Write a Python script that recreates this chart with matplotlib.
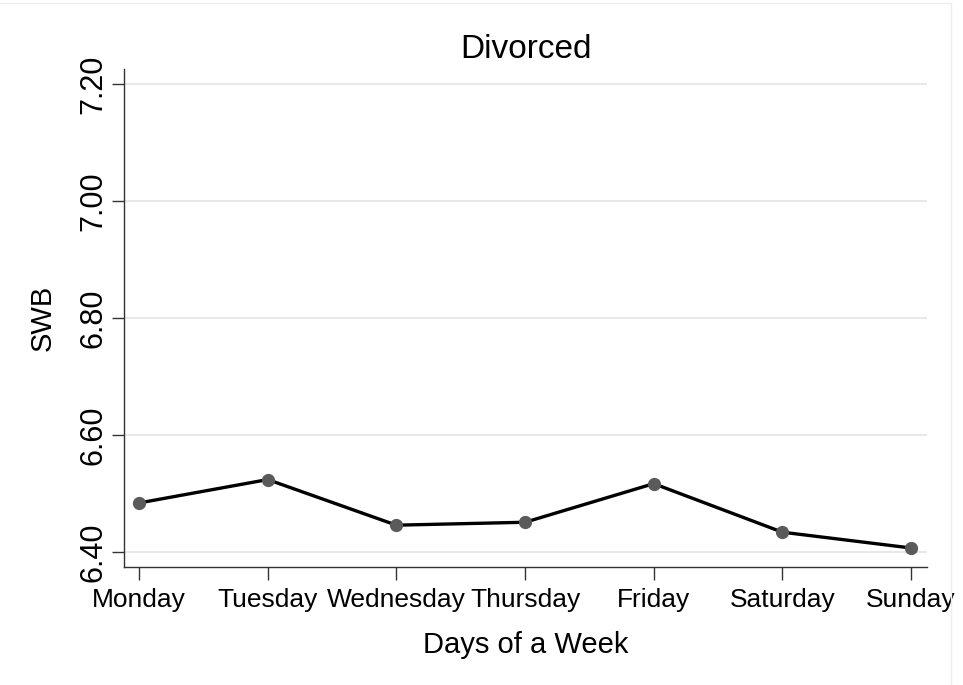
import matplotlib
matplotlib.use("Agg")
import matplotlib.pyplot as plt

days = ["Monday", "Tuesday", "Wednesday", "Thursday", "Friday", "Saturday", "Sunday"]
swb = [6.484, 6.524, 6.446, 6.451, 6.517, 6.434, 6.407]
yticks = [6.40, 6.60, 6.80, 7.00, 7.20]
ytick_labels = ["6.40", "6.60", "6.80", "7.00", "7.20"]

plt.rcParams['font.family'] = ['Liberation Sans', 'DejaVu Sans']

fig = plt.figure(figsize=(9.63, 6.85), dpi=100)
W, H = 963, 685
ax = fig.add_axes([124 / W, 1 - 566.7 / H, (927 - 124) / W, (566.7 - 69) / H])

x = list(range(len(days)))
ax.plot(x, swb, color='black', linewidth=2.4, zorder=3)
ax.plot(x, swb, linestyle='none', marker='o', markersize=8.5,
        color='#5a5a5a', zorder=4)

ax.set_xlim(-0.117, 6.124)
ax.set_ylim(6.375, 7.226)
ax.set_yticks(yticks)
ax.set_yticklabels(ytick_labels, rotation=90, va='center', fontsize=22)
ax.set_xticks(x)
ax.set_xticklabels(days, fontsize=19)
ax.yaxis.grid(True, color='#e8e8e8', linewidth=1.5)
ax.set_axisbelow(True)

for s in ['top', 'right']:
    ax.spines[s].set_visible(False)
for s in ['left', 'bottom']:
    ax.spines[s].set_color('#333333')
    ax.spines[s].set_linewidth(1.0)
ax.tick_params(axis='both', direction='out', length=9, width=1.0, color='#333333')
ax.tick_params(axis='x', pad=6)
ax.tick_params(axis='y', pad=2)

ax.set_title("Divorced", fontsize=24, pad=8)
ax.set_xlabel("Days of a Week", fontsize=21, labelpad=14)
ax.set_ylabel("SWB", fontsize=21, labelpad=16)

# faint outer frame lines
fig.add_artist(plt.Line2D([0, 951 / W], [1 - 3 / H, 1 - 3 / H], color='#eeeeee', linewidth=1.0))
fig.add_artist(plt.Line2D([951 / W, 951 / W], [0, 1 - 3 / H], color='#eeeeee', linewidth=1.0))

fig.savefig("out.png", dpi=100)
